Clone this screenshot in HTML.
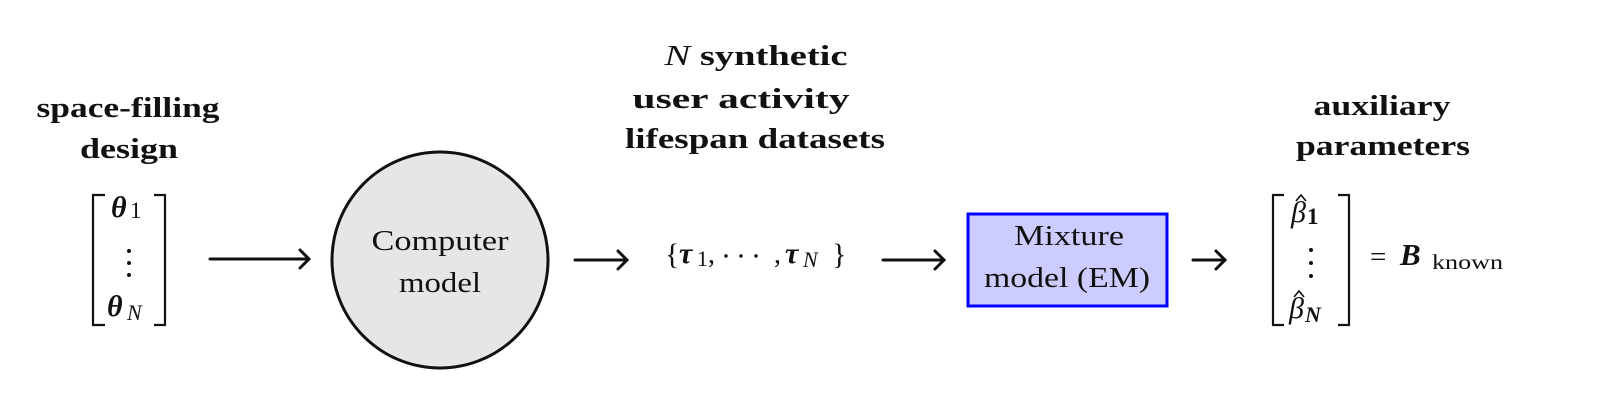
<!DOCTYPE html>
<html><head><meta charset="utf-8"><style>
html,body{margin:0;padding:0;background:#fff;}
svg{display:block;}
text{font-family:"Liberation Serif","DejaVu Serif",serif;fill:#111;}
.b{font-weight:bold;}
</style></head><body>
<svg width="1600" height="400" viewBox="0 0 1600 400" xmlns="http://www.w3.org/2000/svg">
<!-- top labels -->
<text class="b" x="128" y="117" font-size="29" text-anchor="middle" textLength="183" lengthAdjust="spacingAndGlyphs">space-filling</text>
<text class="b" x="129" y="158" font-size="29" text-anchor="middle" textLength="98" lengthAdjust="spacingAndGlyphs">design</text>
<text x="756" y="65" font-size="29" text-anchor="middle" textLength="183" lengthAdjust="spacingAndGlyphs"><tspan font-style="italic">N</tspan><tspan font-weight="bold"> synthetic</tspan></text>
<text class="b" x="741" y="108" font-size="29" text-anchor="middle" textLength="217" lengthAdjust="spacingAndGlyphs">user activity</text>
<text class="b" x="755" y="148" font-size="29" text-anchor="middle" textLength="260" lengthAdjust="spacingAndGlyphs">lifespan datasets</text>
<text class="b" x="1382" y="115" font-size="29" text-anchor="middle" textLength="137" lengthAdjust="spacingAndGlyphs">auxiliary</text>
<text class="b" x="1383" y="155" font-size="29" text-anchor="middle" textLength="174" lengthAdjust="spacingAndGlyphs">parameters</text>

<!-- left vector -->
<g stroke="#111" stroke-width="2.2" fill="none">
<polyline points="105,195 93,195 93,325 105,325"/>
<polyline points="154,195 165,195 165,325 154,325"/>
</g>
<text x="111" y="217" font-size="30" font-weight="bold" font-style="italic">θ</text>
<text x="130" y="218" font-size="23">1</text>
<circle cx="129" cy="251" r="2" fill="#111"/><circle cx="129" cy="263" r="2" fill="#111"/><circle cx="129" cy="275" r="2" fill="#111"/>
<text x="107" y="316" font-size="30" font-weight="bold" font-style="italic">θ</text>
<text x="127" y="320" font-size="22" font-style="italic">N</text>

<!-- arrows -->
<g stroke="#111" stroke-width="3" fill="none" stroke-linecap="round">
<line x1="210" y1="259" x2="308" y2="259"/><polyline points="300,250 309,259 300,268"/>
<line x1="575" y1="260" x2="626" y2="260"/><polyline points="618,251 627,260 618,269"/>
<line x1="883" y1="260" x2="943" y2="260"/><polyline points="935,251 944,260 935,269"/>
<line x1="1193" y1="260" x2="1224" y2="260"/><polyline points="1216,251 1225,260 1216,269"/>
</g>

<!-- circle -->
<circle cx="440" cy="260" r="108" fill="#e6e6e6" stroke="#111" stroke-width="3"/>
<text x="440" y="250" font-size="28" text-anchor="middle" textLength="137" lengthAdjust="spacingAndGlyphs">Computer</text>
<text x="440" y="292" font-size="28" text-anchor="middle" textLength="82" lengthAdjust="spacingAndGlyphs">model</text>

<!-- tau set -->
<text x="665" y="264" font-size="30">{</text>
<text x="679" y="263" font-size="30" font-weight="bold" font-style="italic">τ</text>
<text x="697" y="266" font-size="22">1</text>
<text x="708" y="263" font-size="28">,</text>
<circle cx="726" cy="256" r="1.7" fill="#111"/><circle cx="741" cy="256" r="1.7" fill="#111"/><circle cx="756" cy="256" r="1.7" fill="#111"/>
<text x="774" y="263" font-size="28">,</text>
<text x="785" y="263" font-size="30" font-weight="bold" font-style="italic">τ</text>
<text x="803" y="267" font-size="22" font-style="italic">N</text>
<text x="832" y="264" font-size="30">}</text>

<!-- box -->
<rect x="968" y="214" width="199" height="92" fill="#ccccff" stroke="#0000ff" stroke-width="3"/>
<text x="1069" y="245" font-size="29" text-anchor="middle" textLength="110" lengthAdjust="spacingAndGlyphs">Mixture</text>
<text x="1067" y="287" font-size="29" text-anchor="middle" textLength="166" lengthAdjust="spacingAndGlyphs">model (EM)</text>

<!-- right vector -->
<g stroke="#111" stroke-width="2.2" fill="none">
<polyline points="1284,195 1273,195 1273,325 1284,325"/>
<polyline points="1338,195 1349,195 1349,325 1338,325"/>
</g>
<text x="1291" y="222" font-size="30" font-style="italic">β</text>
<polyline points="1296,201 1301,195 1306,201" stroke="#111" stroke-width="1.6" fill="none"/>
<text x="1307" y="224" font-size="23" font-weight="bold">1</text>
<circle cx="1311" cy="250" r="2" fill="#111"/><circle cx="1311" cy="263" r="2" fill="#111"/><circle cx="1311" cy="276" r="2" fill="#111"/>
<text x="1289" y="318" font-size="30" font-style="italic">β</text>
<polyline points="1294,297 1299,291 1304,297" stroke="#111" stroke-width="1.6" fill="none"/>
<text x="1305" y="322" font-size="22" font-style="italic" font-weight="bold">N</text>

<text x="1370" y="266" font-size="29">=</text>
<text x="1400" y="265" font-size="31" font-weight="bold" font-style="italic">B</text>
<text x="1432" y="269" font-size="21" textLength="71" lengthAdjust="spacingAndGlyphs">known</text>
</svg>
</body></html>
